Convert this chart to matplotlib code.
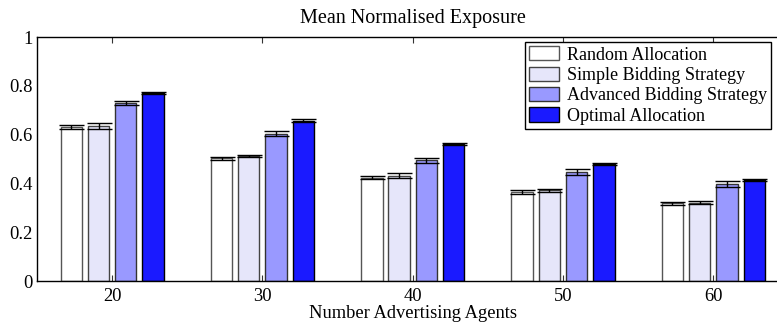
import matplotlib
matplotlib.use("Agg")
import matplotlib.pyplot as plt
import numpy as np

plt.rcParams['font.family'] = ['Liberation Serif', 'DejaVu Serif']

agents = [20, 30, 40, 50, 60]
series = ["Random Allocation", "Simple Bidding Strategy",
          "Advanced Bidding Strategy", "Optimal Allocation"]
random_alloc = [0.630, 0.503, 0.424, 0.365, 0.318]
simple_bid = [0.637, 0.513, 0.431, 0.371, 0.320]
advanced_bid = [0.730, 0.603, 0.494, 0.447, 0.396]
optimal_alloc = [0.770, 0.657, 0.563, 0.480, 0.415]
random_err = [0.0075, 0.007, 0.0075, 0.007, 0.0075]
simple_err = [0.012, 0.005, 0.010, 0.005, 0.006]
advanced_err = [0.0096, 0.010, 0.009, 0.012, 0.012]
optimal_err = [0.004, 0.005, 0.004, 0.005, 0.005]
yticks = [0, 0.2, 0.4, 0.6, 0.8, 1]
ytick_labels = ["0", "0.2", "0.4", "0.6", "0.8", "1"]

values = [random_alloc, simple_bid, advanced_bid, optimal_alloc]
errors = [random_err, simple_err, advanced_err, optimal_err]
colors = ["#FFFFFF", "#E6E6FA", "#9999FF", "#1A1AFF"]
edges = ["#555555", "#444444", "#333333", "#000000"]

W, H = 777, 324
fig = plt.figure(figsize=(W / 100, H / 100), dpi=100)
left, right, bottom, top = 37, 788.5, 281, 37
ax = fig.add_axes([left / W, (H - bottom) / H, (right - left) / W, (bottom - top) / H])

x = np.array(agents, dtype=float)
spacing = 1.815
width = 1.42
handles = []
for i, (v, e) in enumerate(zip(values, errors)):
    pos = x + (i - 1.5) * spacing
    b = ax.bar(pos, v, width=width, color=colors[i], edgecolor=edges[i],
               linewidth=1.0, label=series[i], zorder=2)
    handles.append(b)
    ax.errorbar(pos, v, yerr=e, fmt='none', ecolor='black', elinewidth=1.0,
                capsize=9, capthick=1.0, zorder=3)

ax.set_xlim(15, 65)
ax.set_ylim(0, 1)
ax.set_xticks(agents)
ax.set_xticklabels([str(a) for a in agents])
ax.set_yticks(yticks)
ax.set_yticklabels(ytick_labels)
ax.tick_params(axis='x', direction='in', top=True, bottom=True, length=4.5,
               width=0.8, labelsize=13.3, pad=5, color='#333333')
ax.tick_params(axis='y', length=0, labelsize=13.3, pad=3)
for s in ['left', 'bottom', 'top']:
    ax.spines[s].set_linewidth(1.0)
ax.spines['right'].set_visible(False)

ax.set_title("Mean Normalised Exposure", fontsize=14.5, pad=10)
ax.set_xlabel("Number Advertising Agents", fontsize=13.3, labelpad=0)

leg = fig.legend(handles=handles, labels=series, loc='upper left',
                 bbox_to_anchor=(524.7 / W, 1 - 41.7 / H), bbox_transform=fig.transFigure,
                 fontsize=13, frameon=True, fancybox=False, framealpha=1,
                 edgecolor='black', borderaxespad=0, borderpad=0.25,
                 handlelength=1.66, handleheight=0.83, handletextpad=0.42,
                 labelspacing=0.17)
leg.get_frame().set_linewidth(1.0)

fig.savefig("out.png", dpi=100)
